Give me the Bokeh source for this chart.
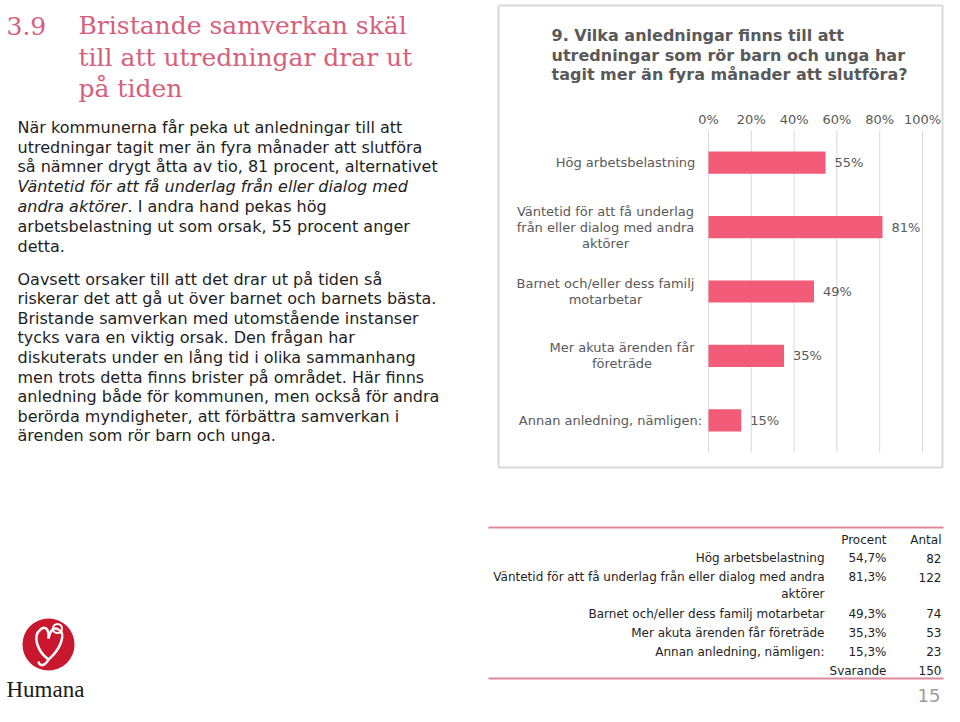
from bokeh.plotting import figure
from bokeh.models import (Range1d, FactorRange, LinearScale, CategoricalScale,
                          CoordinateMapping, ColumnDataSource)
from bokeh.core.properties import value
from bokeh.embed import file_html
from bokeh.resources import INLINE

# ---------------- data ----------------
categories = [
    "Hög arbetsbelastning",
    "Väntetid för att få underlag från eller dialog med andra aktörer",
    "Barnet och/eller dess familj motarbetar",
    "Mer akuta ärenden får företräde",
    "Annan anledning, nämligen:",
]
percent = [54.7, 81.3, 49.3, 35.3, 15.3]
counts = [82, 122, 74, 53, 23]
respondents = 150
x_ticks = [0, 20, 40, 60, 80, 100]
tick_labels = ["0%", "20%", "40%", "60%", "80%", "100%"]

chart_label_lines = [
    ["Hög arbetsbelastning"],
    ["Väntetid för att få underlag", "från eller dialog med andra", "aktörer"],
    ["Barnet och/eller dess familj", "motarbetar"],
    ["Mer akuta ärenden får", "företräde"],
    ["Annan anledning, nämligen:"],
]
table_label_lines = [
    ["Hög arbetsbelastning"],
    ["Väntetid för att få underlag från eller dialog med andra", "aktörer"],
    ["Barnet och/eller dess familj motarbetar"],
    ["Mer akuta ärenden får företräde"],
    ["Annan anledning, nämligen:"],
]
section_no = "3.9"
heading_lines = ["Bristande samverkan skäl", "till att utredningar drar ut", "på tiden"]
chart_title_lines = ["9. Vilka anledningar finns till att",
                     "utredningar som rör barn och unga har",
                     "tagit mer än fyra månader att slutföra?"]
para1 = [
    [("När kommunerna får peka ut anledningar till att", "normal")],
    [("utredningar tagit mer än fyra månader att slutföra", "normal")],
    [("så nämner drygt åtta av tio, 81 procent, alternativet", "normal")],
    [("Väntetid för att få underlag från eller dialog med", "italic")],
    [("andra aktörer", "italic"), (". I andra hand pekas hög", "normal")],
    [("arbetsbelastning ut som orsak, 55 procent anger", "normal")],
    [("detta.", "normal")],
]
para2 = [
    "Oavsett orsaker till att det drar ut på tiden så",
    "riskerar det att gå ut över barnet och barnets bästa.",
    "Bristande samverkan med utomstående instanser",
    "tycks vara en viktig orsak. Den frågan har",
    "diskuterats under en lång tid i olika sammanhang",
    "men trots detta finns brister på området. Här finns",
    "anledning både för kommunen, men också för andra",
    "berörda myndigheter, att förbättra samverkan i",
    "ärenden som rör barn och unga.",
]
page_number = "15"
brand = "Humana"

# ---------------- styles ----------------
TITLE_PINK = "#D6607B"
BAR = "#F35C79"
GRAY = "#595959"
BODY = "#1E1E1E"
GRIDC = "#D9D9D9"
RULE = "#E0889C"
LOGO_RED = "#C8172E"
SANS = "DejaVu Sans"
W, H = 944, 706

p = figure(width=W, height=H, x_range=Range1d(0, W), y_range=Range1d(H, 0),
           x_axis_location=None, y_axis_location=None, toolbar_location=None,
           output_backend="svg", min_border=0, outline_line_color=None,
           background_fill_color="white", border_fill_color="white")
p.grid.visible = False


def put_text(xs, ys, texts, size, color, font=SANS, style="normal", align="left",
             baseline="alphabetic", xo=0, yo=0, coords=None):
    n = len(texts)
    xo = xo if isinstance(xo, list) else [xo] * n
    yo = yo if isinstance(yo, list) else [yo] * n
    src = ColumnDataSource(dict(x=xs, y=ys, text=texts, xo=xo, yo=yo))
    r = p.text(x="x", y="y", text="text", source=src, x_offset="xo", y_offset="yo",
               text_font=value(font), text_font_size=f"{size}px", text_color=color,
               text_font_style=style, text_align=align, text_baseline=baseline)
    if coords is not None:
        r.coordinates = coords
    return r


# ---------------- heading ----------------
put_text([6], [25], [section_no], 25, TITLE_PINK, font="DejaVu Serif")
put_text([78] * 3, [25, 57, 88], heading_lines, 25, TITLE_PINK, font="DejaVu Serif")

# ---------------- body text ----------------
for i, segs in enumerate(para1):
    y = 126.7 + 19.8 * i
    off = 0
    for s, style in segs:
        put_text([17], [y], [s], 16, BODY, style=style, xo=off)
        off += 110
put_text([17] * len(para2), [278.5 + 19.6 * i for i in range(len(para2))], para2, 16, BODY)

# ---------------- chart box ----------------
p.quad(left=[498], right=[942], top=[5], bottom=[467], fill_color=None,
       line_color=GRIDC, line_width=2)
put_text([551] * 3, [35, 55, 74], chart_title_lines, 16, GRAY, style="bold")

cm_num = CoordinateMapping(x_source=Range1d(0, 100), y_source=Range1d(0, 1),
                           x_scale=LinearScale(), y_scale=LinearScale(),
                           x_target=Range1d(708, 922), y_target=Range1d(130, 452))
cm_cat = CoordinateMapping(x_source=Range1d(0, 100), y_source=FactorRange(factors=categories),
                           x_scale=LinearScale(), y_scale=CategoricalScale(),
                           x_target=Range1d(708, 922), y_target=Range1d(130, 452))

g = p.segment(x0=x_ticks, x1=x_ticks, y0=[0] * len(x_ticks), y1=[1] * len(x_ticks),
              line_color=GRIDC, line_width=1)
g.coordinates = cm_num
put_text(x_ticks, [0] * len(x_ticks), tick_labels, 13, GRAY, align="center", yo=-11,
         coords=cm_num)

b = p.hbar(y=categories, left=0, right=percent, height=0.345, fill_color=BAR, line_color=None)
b.coordinates = cm_cat
put_text(percent, categories, [f"{round(v)}%" for v in percent], 13, GRAY,
         baseline="middle", xo=9, coords=cm_cat)

block_width = [140, 180, 180, 147, 170]
lx, ly, lt, lxo, lyo = [], [], [], [], []
for cat, lines, w in zip(categories, chart_label_lines, block_width):
    n = len(lines)
    for i, ln in enumerate(lines):
        lx.append(0)
        ly.append(cat)
        lt.append(ln)
        lxo.append(-13 - w / 2)
        lyo.append((i - (n - 1) / 2) * 16)
put_text(lx, ly, lt, 13, GRAY, align="center", baseline="middle", xo=lxo, yo=lyo,
         coords=cm_cat)

# ---------------- table ----------------
TX_LABEL, TX_PCT, TX_CNT = 824, 886, 941
p.segment(x0=[488, 488], x1=[943, 943], y0=[527, 678], y1=[527, 678],
          line_color=RULE, line_width=2)
put_text([TX_PCT, TX_CNT], [539, 539], ["Procent", "Antal"], 12, BODY, align="right")
row_y = [557.5, 576.5, 613, 632, 651]
tl_x, tl_y, tl_t = [], [], []
for lines, y in zip(table_label_lines, row_y):
    for i, ln in enumerate(lines):
        tl_x.append(TX_LABEL)
        tl_y.append(y + 16.5 * i)
        tl_t.append(ln)
put_text(tl_x, tl_y, tl_t, 12, BODY, align="right")
put_text([TX_PCT] * 5, row_y, [f"{v:.1f}".replace(".", ",") + "%" for v in percent], 12,
         BODY, align="right")
put_text([TX_CNT] * 5, row_y, [str(c) for c in counts], 12, BODY, align="right")
put_text([TX_PCT, TX_CNT], [670, 670], ["Svarande", str(respondents)], 12, BODY, align="right")

# ---------------- page number ----------------
put_text([940], [695], [page_number], 18, "#9C9C9C", align="right")

# ---------------- logo ----------------
LY = 644
p.scatter(x=[48], y=[LY], size=52, marker="circle", fill_color=LOGO_RED, line_color=None)
dy = LY - 662
p.bezier(x0=[48, 40, 48, 58, 48], y0=[v + dy for v in [677, 647, 656, 647, 677]],
         x1=[40, 48, 58, 48, 38], y1=[v + dy for v in [647, 656, 647, 677, 679]],
         cx0=[38, 45, 49, 66, 45], cy0=[v + dy for v in [670, 642, 649, 651, 683]],
         cx1=[31, 49, 53, 60, 39], cy1=[v + dy for v in [654, 648, 644, 667, 685]],
         line_color="white", line_width=2.5)
p.scatter(x=[57], y=[646 + dy], size=9, marker="circle", fill_color=None,
          line_color="white", line_width=2)
put_text([6], [689], [brand], 23, "#1A1A1A", font="Liberation Serif")

open("out.html", "w").write(file_html(p, INLINE))
